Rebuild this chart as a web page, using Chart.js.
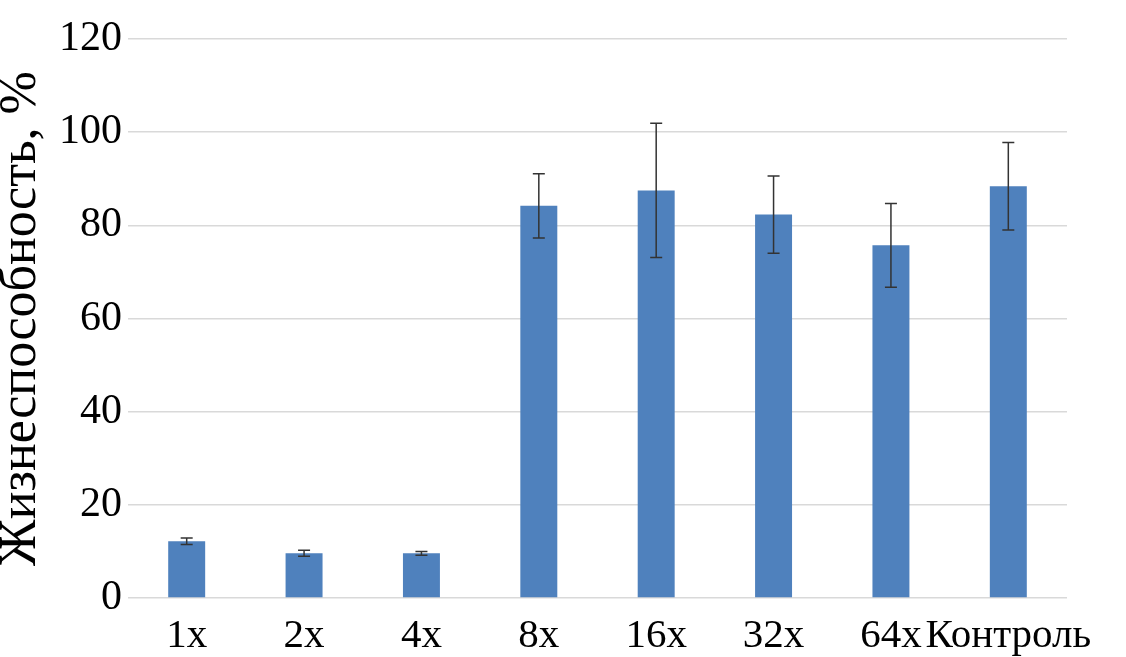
<!DOCTYPE html>
<html>
<head>
<meta charset="utf-8">
<script src="https://cdn.jsdelivr.net/npm/chart.js@4/dist/chart.umd.min.js"></script>
<style>
  html, body { margin: 0; padding: 0; background: #fff; }
  #wrap { width: 1126px; height: 657px; position: relative; }
</style>
</head>
<body>
<div id="wrap"><canvas id="viabilityChart"></canvas></div>
<script>
// dilution groups and measured viability (%) with error (±)
const categories = ['1x', '2x', '4x', '8x', '16x', '32x', '64x', 'Контроль'];
const viability = [12.2, 9.6, 9.6, 84.2, 87.5, 82.3, 75.7, 88.4];
const errors = [0.7, 0.65, 0.4, 6.9, 14.4, 8.3, 9.0, 9.4];
const yTicks = [0, 20, 40, 60, 80, 100, 120];

const serif = "'Liberation Serif', 'Times New Roman', serif";

// draws the ± whiskers on top of each bar
const errorBarPlugin = {
    id: 'errorBars',
    afterDatasetsDraw(chart) {
        const ctx = chart.ctx;
        const yScale = chart.scales.y;
        const meta = chart.getDatasetMeta(0);
        ctx.save();
        ctx.strokeStyle = '#333333';
        ctx.lineWidth = 1.5;
        meta.data.forEach((bar, i) => {
            const v = viability[i];
            const e = errors[i];
            const top = yScale.getPixelForValue(v + e);
            const bot = yScale.getPixelForValue(v - e);
            const cap = 6;
            ctx.beginPath();
            ctx.moveTo(bar.x, top);
            ctx.lineTo(bar.x, bot);
            ctx.moveTo(bar.x - cap, top);
            ctx.lineTo(bar.x + cap, top);
            ctx.moveTo(bar.x - cap, bot);
            ctx.lineTo(bar.x + cap, bot);
            ctx.stroke();
        });
        ctx.restore();
    }
};

new Chart(document.getElementById('viabilityChart'), {
    type: 'bar',
    data: {
        labels: categories,
        datasets: [{
            data: viability,
            backgroundColor: '#4f81bd',
            borderWidth: 0,
            categoryPercentage: 1,
            barPercentage: 0.315
        }]
    },
    options: {
        responsive: true,
        maintainAspectRatio: false,
        animation: false,
        layout: { padding: { top: 39, right: 59, bottom: 0, left: 0 } },
        plugins: {
            legend: { display: false },
            tooltip: { enabled: false }
        },
        scales: {
            x: {
                grid: { display: false },
                border: { display: false },
                ticks: {
                    color: '#000',
                    font: { family: serif, size: 41 },
                    autoSkip: false,
                    maxRotation: 0,
                    padding: 6
                },
                afterFit: (scale) => { scale.height = 59; }
            },
            y: {
                min: 0,
                max: 120,
                afterBuildTicks: (scale) => { scale.ticks = yTicks.map(v => ({ value: v })); },
                grid: { color: '#d9d9d9', lineWidth: 1.5, drawTicks: false },
                border: { display: false },
                ticks: {
                    color: '#000',
                    font: { family: serif, size: 42 },
                    padding: 6
                },
                title: {
                    display: true,
                    text: 'Жизнеспособность, %',
                    color: '#000',
                    font: { family: serif, size: 52, lineHeight: 1 },
                    padding: { top: -5, bottom: 0 }
                },
                afterFit: (scale) => { scale.width = 128; }
            }
        }
    },
    plugins: [errorBarPlugin]
});
</script>
</body>
</html>
